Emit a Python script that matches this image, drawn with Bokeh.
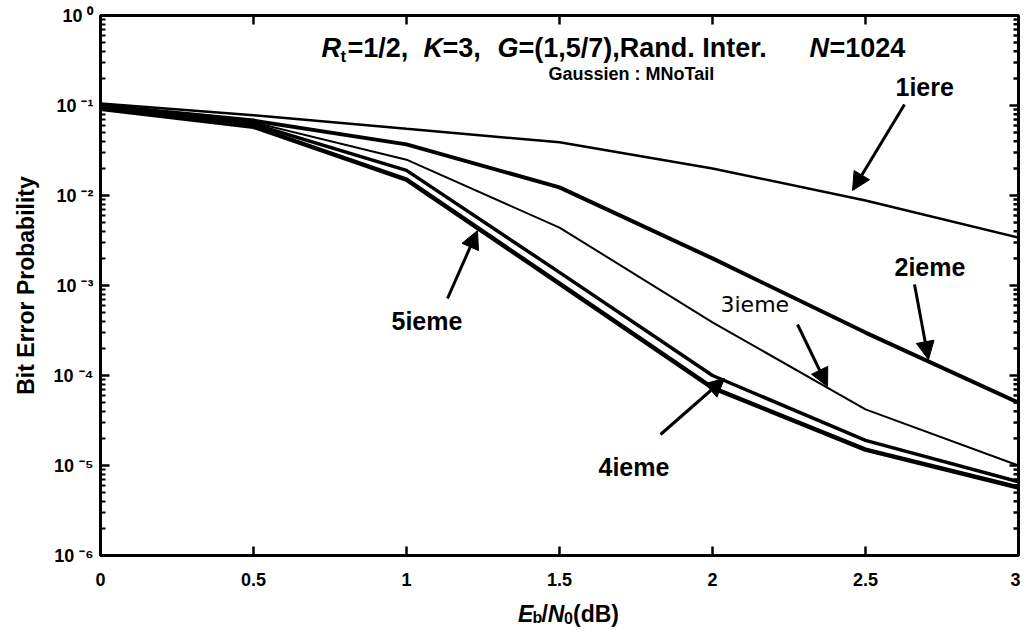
from bokeh.plotting import figure
from bokeh.models import (Range1d, FixedTicker, CustomJSTickFormatter,
                          Label, Arrow, NormalHead)
from bokeh.layouts import column
from bokeh.embed import file_html
from bokeh.resources import INLINE

# ---- data ----
ebn0 = [0, 0.5, 1, 1.5, 2, 2.5, 3]
ber_1iere = [0.105, 0.078, 0.055, 0.039, 0.020, 0.0088, 0.0034]
ber_2ieme = [0.100, 0.068, 0.037, 0.0123, 0.0020, 3.0e-4, 5.0e-5]
ber_3ieme = [0.098, 0.065, 0.025, 4.4e-3, 3.9e-4, 4.2e-5, 1.0e-5]
ber_4ieme = [0.095, 0.062, 0.019, 1.4e-3, 1.0e-4, 1.9e-5, 6.6e-6]
ber_5ieme = [0.092, 0.058, 0.015, 1.05e-3, 7.3e-5, 1.5e-5, 5.7e-6]
x_ticks = [0, 0.5, 1, 1.5, 2, 2.5, 3]
y_ticks = [1e-6, 1e-5, 1e-4, 1e-3, 1e-2, 1e-1, 1]

FONT = "Liberation Sans"

W, H = 1020, 592
L, R, T, B = 100, 1018, 15, 555  # frame in canvas px

p = figure(width=W, height=H, output_backend="svg", toolbar_location=None,
           x_range=Range1d(0, 3), y_range=Range1d(1e-6, 1), y_axis_type="log",
           min_border_left=L, min_border_right=W - R, min_border_top=T,
           min_border_bottom=H - B)
p.background_fill_color = "white"
p.border_fill_color = "white"
p.outline_line_color = "black"
p.outline_line_width = 3
p.xgrid.visible = False
p.ygrid.visible = False

minor = []
for e in range(-6, 0):
    for k in range(2, 10):
        minor.append(k * 10.0 ** e)

fmt = CustomJSTickFormatter(code="""
const sup = {'-':'\u207b','0':'\u2070','1':'\u00b9','2':'\u00b2','3':'\u00b3','4':'\u2074','5':'\u2075','6':'\u2076','7':'\u2077','8':'\u2078','9':'\u2079'};
const e = Math.round(Math.log10(tick)).toString();
let s = '';
for (const c of e) s += sup[c];
return '10 ' + s;
""")

ya = p.yaxis[0]
ya.ticker = FixedTicker(ticks=y_ticks, minor_ticks=minor)
ya.formatter = fmt
xa = p.xaxis[0]
xa.ticker = FixedTicker(ticks=x_ticks)

for ax in (xa, ya):
    ax.axis_line_color = None
    ax.major_tick_in = 9
    ax.major_tick_out = 0
    ax.minor_tick_in = 5
    ax.minor_tick_out = 0
    ax.major_tick_line_width = 2.5
    ax.minor_tick_line_width = 2
    ax.major_label_text_font = FONT
    ax.major_label_text_font_style = "bold"
    ax.major_label_text_font_size = "18px"
    ax.major_label_text_color = "black"

ya.axis_label = "Bit Error Probability"
ya.axis_label_text_font = FONT
ya.axis_label_text_font_style = "bold"
ya.axis_label_text_font_size = "23px"
ya.axis_label_text_color = "black"
ya.axis_label_standoff = 12
ya.major_label_standoff = 7
xa.major_label_standoff = 17

# ---- mirrored ticks on right and top frame edges (from the same tick arrays) ----
dx_major = 9 * 3 / 918
dx_minor = 5 * 3 / 918
ry0 = y_ticks + minor
rx1 = [3 - dx_major] * len(y_ticks) + [3 - dx_minor] * len(minor)
p.segment(x0=[3] * len(ry0), y0=ry0, x1=rx1, y1=ry0, line_color="black", line_width=2.5)
top_end = 10 ** (-9 * 6 / 540)
p.segment(x0=x_ticks, y0=[1] * len(x_ticks), x1=x_ticks, y1=[top_end] * len(x_ticks),
          line_color="black", line_width=2.5)

# ---- curves ----
p.line(ebn0, ber_1iere, line_color="black", line_width=2.5)
p.line(ebn0, ber_2ieme, line_color="black", line_width=4)
p.line(ebn0, ber_3ieme, line_color="black", line_width=2)
p.line(ebn0, ber_4ieme, line_color="black", line_width=3.5)
p.line(ebn0, ber_5ieme, line_color="black", line_width=4.5)

# ---- helpers for annotation placement (page pixels -> data) ----
PL, PR, PT, PB = 108, 1026, 23, 563
def xd(px):
    return (px - PL) / (PR - PL) * 3
def yd(py):
    return 10 ** (-6 * (py - PT) / (PB - PT))

def lab(text, px, py, size, style="bold", font=FONT):
    p.add_layout(Label(x=xd(px), y=yd(py), text=text, text_font=font,
                       text_font_size=size, text_font_style=style,
                       text_baseline="middle", text_align="left", text_color="black"))

# title pieces
ty = 55
dx = 11
lab("R", 318 + dx, ty, "27px", "bold italic")
lab("t", 337 + dx, ty + 9, "17px")
lab("=1/2,", 344 + dx, ty, "27px")
lab("K", 420 + dx, ty, "27px", "bold italic")
lab("=3,", 439 + dx, ty, "27px")
lab("G", 494 + dx, ty, "27px", "bold italic")
lab("=(1,5/7),Rand. Inter.", 515 + dx, ty, "27px")
lab("N", 806 + dx, ty, "27px", "bold italic")
lab("=1024", 826 + dx, ty, "27px")
lab("Gaussien : MNoTail", 556, 81, "18px")

# curve labels
lab("1iere", 903, 94, "25px")
lab("2ieme", 902, 274, "25px")
lab("3ieme", 728, 312, "22px", "normal", "DejaVu Sans")
lab("4ieme", 606, 474, "25px")
lab("5ieme", 399, 328, "25px")

# arrows
def arr(x0, y0, x1, y1):
    p.add_layout(Arrow(end=NormalHead(size=18, fill_color="black", line_color="black"),
                       x_start=xd(x0), y_start=yd(y0), x_end=xd(x1), y_end=yd(y1),
                       line_width=3, line_color="black"))

arr(912, 112, 860, 198)
arr(922, 292, 936, 367)
arr(805, 332, 835, 394)
arr(668, 442, 732, 386)
arr(455, 306, 485, 238)

# ---- x axis title (mixed italic / subscript), in a strip below the plot ----
SH = 35
p2 = figure(width=W, height=SH, output_backend="svg", toolbar_location=None,
            x_range=Range1d(0, W), y_range=Range1d(0, SH),
            min_border_left=0, min_border_right=0, min_border_top=0, min_border_bottom=0)
p2.axis.visible = False
p2.grid.visible = False
p2.outline_line_color = None
p2.background_fill_color = "white"
p2.border_fill_color = "white"

def lab2(text, px, py, size, style="bold"):
    p2.add_layout(Label(x=px, y=(8 + H + SH) - py, text=text, text_font=FONT,
                        text_font_size=size, text_font_style=style,
                        text_baseline="middle", text_align="left", text_color="black"))

xy = 621
x0 = 464
lab2("E", x0, xy, "23px", "bold italic")
lab2("b", x0 + 16, xy + 4, "16px")
lab2("/", x0 + 26, xy, "23px")
lab2("N", x0 + 33, xy, "23px", "bold italic")
lab2("0", x0 + 51, xy + 4, "16px")
lab2("(dB)", x0 + 61, xy, "23px")

open("out.html", "w").write(file_html(column(p, p2, spacing=0), INLINE))
